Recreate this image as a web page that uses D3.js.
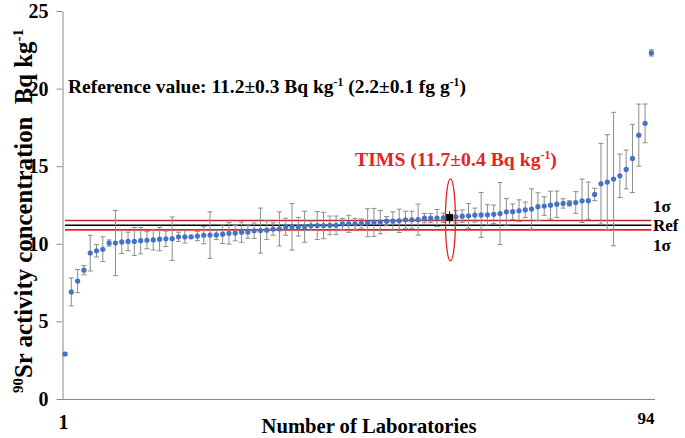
<!DOCTYPE html>
<html>
<head>
<meta charset="utf-8">
<script src="https://cdn.jsdelivr.net/npm/d3@7"></script>
<style>
  html, body { margin: 0; padding: 0; background: #fff; }
  svg text { font-family: "Liberation Serif", "Times New Roman", serif; font-weight: bold; }
</style>
</head>
<body>
<svg id="chart" width="685" height="438"></svg>
<script>
// ---- data ----
const labValues = [
  2.9, 6.9, 7.6, 8.3, 9.4, 9.55, 9.65, 10.05, 10.05, 10.12,
  10.15, 10.15, 10.2, 10.23, 10.25, 10.3, 10.32, 10.33, 10.45, 10.45,
  10.45, 10.5, 10.55, 10.56, 10.57, 10.62, 10.68, 10.69, 10.75, 10.76,
  10.84, 10.85, 10.88, 10.95, 10.96, 11.1, 11.1, 11.1, 11.1, 11.16,
  11.18, 11.18, 11.19, 11.19, 11.28, 11.29, 11.29, 11.31, 11.36, 11.38,
  11.4, 11.46, 11.46, 11.48, 11.55, 11.55, 11.56, 11.65, 11.66, 11.66,
  11.67, 11.7, 11.74, 11.78, 11.8, 11.85, 11.86, 11.87, 11.9, 11.95,
  12.06, 12.07, 12.13, 12.19, 12.24, 12.39, 12.43, 12.49, 12.55, 12.6,
  12.6, 12.66, 12.77, 12.78, 13.18, 13.87, 13.98, 14.17, 14.38, 14.79,
  15.5, 17.0, 17.76, 22.3
];
const labErrors = [
  0.1, 0.9, 0.75, 0.3, 1.15, 0.4, 0.8, 0.2, 2.1, 0.75,
  0.6, 0.9, 0.85, 0.55, 0.65, 0.75, 0.5, 1.4, 0.3, 0.4,
  0.05, 0.3, 0.55, 1.5, 0.3, 0.6, 0.7, 0.5, 0.65, 0.4,
  0.5, 1.45, 0.6, 0.4, 1.1, 0.55, 1.5, 0.6, 1.0, 0.3,
  0.9, 0.85, 0.6, 0.6, 0.35, 0.55, 0.35, 0.3, 0.9, 0.9,
  0.75, 0.3, 0.6, 0.75, 0.55, 0.55, 1.0, 0.3, 0.3, 0.55,
  0.3, 0.4, 0.4, 0.4, 0.8, 0.45, 1.45, 0.65, 0.6, 2.0,
  0.85, 0.5, 0.7, 0.5, 1.3, 0.9, 0.6, 0.9, 0.85, 0.3,
  0.17, 0.7, 1.4, 1.2, 0.4, 2.6, 3.05, 4.3, 1.4, 1.25,
  2.2, 2.0, 1.25, 0.2
];
const timsLab = 62;          // TIMS result position in the ranking
const refValue = 11.2;
const refSigma = 0.3;
const yTicks = [0, 5, 10, 15, 20, 25];
const xTickLabels = [1, 94];

// ---- scales ----
const svg = d3.select("#chart");
const x = d3.scaleLinear().domain([1, 94]).range([65, 651.4]);
const y = d3.scaleLinear().domain([0, 25]).range([399, 11]);
const axisColor = "#8a8a8a";
const serif = "'Liberation Serif', 'Times New Roman', serif";

// fit a text element's total length to a target by scaling its font sizes
function fitText(sel, target, base, sup) {
  const len = sel.node().getComputedTextLength();
  const k = target / len;
  sel.style("font-size", (base * k) + "px");
  sel.selectAll("tspan.sup").style("font-size", (sup * k) + "px");
  return k;
}

// y axis
const yAxis = svg.append("g")
  .attr("transform", "translate(62.5,0)")
  .call(d3.axisLeft(y).tickValues(yTicks).tickSize(6).tickSizeOuter(0).tickPadding(8));
yAxis.select(".domain").attr("stroke", axisColor);
yAxis.selectAll(".tick line").attr("stroke", axisColor);
yAxis.selectAll(".tick text")
  .attr("fill", "#000")
  .style("font-size", "20px")
  .style("font-family", serif)
  .style("font-weight", "bold");

// x axis line (no ticks)
svg.append("line")
  .attr("x1", 62).attr("x2", 655)
  .attr("y1", y(0) + 0.5).attr("y2", y(0) + 0.5)
  .attr("stroke", axisColor);

// x labels
svg.append("text").attr("x", x(xTickLabels[0]) - 1.5).attr("y", 429)
  .attr("text-anchor", "middle").style("font-size", "20px").text(xTickLabels[0]);
svg.append("text").attr("x", 646).attr("y", 424)
  .attr("text-anchor", "middle").style("font-size", "17px").text(xTickLabels[1]);

// reference lines
const refLines = [
  { v: refValue + refSigma, c: "#b8282c" },
  { v: refValue, c: "#000000" },
  { v: refValue - refSigma, c: "#e8231f" }
];
svg.selectAll("line.ref").data(refLines).enter().append("line")
  .attr("class", "ref")
  .attr("x1", x(1)).attr("x2", x(94))
  .attr("y1", d => y(d.v)).attr("y2", d => y(d.v))
  .attr("stroke", d => d.c).attr("stroke-width", 1.6);

// error bars
const data = labValues.map((v, i) => ({ lab: i + 1, v, e: labErrors[i] }));
const eb = svg.append("g").attr("stroke", "#8c8c8c").attr("stroke-width", 1);
data.forEach(d => {
  if (d.lab === timsLab) return;
  const cx = x(d.lab);
  eb.append("line").attr("x1", cx).attr("x2", cx).attr("y1", y(d.v + d.e)).attr("y2", y(d.v - d.e));
  eb.append("line").attr("x1", cx - 2.5).attr("x2", cx + 2.5).attr("y1", y(d.v + d.e)).attr("y2", y(d.v + d.e));
  eb.append("line").attr("x1", cx - 2.5).attr("x2", cx + 2.5).attr("y1", y(d.v - d.e)).attr("y2", y(d.v - d.e));
});

// points
svg.append("g").selectAll("circle")
  .data(data.filter(d => d.lab !== timsLab)).enter().append("circle")
  .attr("cx", d => x(d.lab)).attr("cy", d => y(d.v)).attr("r", 2.6)
  .attr("fill", "#4472c4");

// TIMS point
const tims = data[timsLab - 1];
svg.append("line").attr("x1", x(timsLab)).attr("x2", x(timsLab))
  .attr("y1", y(tims.v + tims.e)).attr("y2", y(tims.v - tims.e))
  .attr("stroke", "#000").attr("stroke-width", 1);
svg.append("rect")
  .attr("x", x(timsLab) - 3.5).attr("y", y(tims.v) - 3.5)
  .attr("width", 7).attr("height", 7).attr("fill", "#000");
svg.append("ellipse")
  .attr("cx", x(timsLab) + 0.8).attr("cy", y(tims.v) + 2.5)
  .attr("rx", 5).attr("ry", 41)
  .attr("fill", "none").attr("stroke", "#e8231f").attr("stroke-width", 1.3);

// annotations
const refText = svg.append("text").attr("x", 68).attr("y", 93).style("font-size", "20px").attr("fill", "#000");
refText.append("tspan").text("Reference value: 11.2±0.3 Bq kg");
refText.append("tspan").attr("class", "sup").attr("dy", -7).style("font-size", "12px").text("-1");
refText.append("tspan").attr("dy", 7).text(" (2.2±0.1 fg g");
refText.append("tspan").attr("class", "sup").attr("dy", -7).style("font-size", "12px").text("-1");
refText.append("tspan").attr("dy", 7).text(")");
fitText(refText, 398, 20, 12);

const timsText = svg.append("text").attr("x", 456).attr("y", 166)
  .attr("text-anchor", "middle").style("font-size", "20px").attr("fill", "#e8231f");
timsText.append("tspan").text("TIMS (11.7±0.4 Bq kg");
timsText.append("tspan").attr("class", "sup").attr("dy", -7).style("font-size", "12px").text("-1");
timsText.append("tspan").attr("dy", 7).text(")");
fitText(timsText, 202, 20, 12);

const sideLabels = [
  { t: "1σ", v: refValue + refSigma, dy: -9 },
  { t: "Ref", v: refValue, dy: 6 },
  { t: "1σ", v: refValue - refSigma, dy: 21 }
];
svg.selectAll("text.side").data(sideLabels).enter().append("text")
  .attr("class", "side")
  .attr("x", 653).attr("y", d => y(d.v) + d.dy)
  .style("font-size", "17px").attr("fill", "#000")
  .text(d => d.t);

// axis titles
const xt = svg.append("text").attr("x", 369).attr("y", 433)
  .attr("text-anchor", "middle").style("font-size", "20px").text("Number of Laboratories");
fitText(xt, 215, 20, 12);

const yt = svg.append("text")
  .attr("transform", "translate(32,211) rotate(-90)")
  .attr("xml:space", "preserve")
  .attr("text-anchor", "middle").style("font-size", "20px");
yt.append("tspan").attr("class", "sup").attr("dy", -7).style("font-size", "12px").text("90");
yt.append("tspan").attr("dy", 7).text("Sr activity concentration  Bq kg");
yt.append("tspan").attr("class", "sup").attr("dy", -7).style("font-size", "12px").text("-1");
const ky = fitText(yt, 364, 20, 12);
yt.selectAll("tspan").each(function(d, i) {
  const el = d3.select(this);
  el.attr("dy", (+el.attr("dy")) * ky);
});
</script>
</body>
</html>
